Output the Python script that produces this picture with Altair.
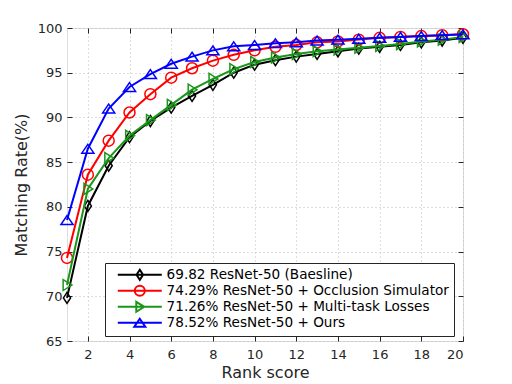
import altair as alt
import pandas as pd

ranks = list(range(1, 21))
series = [
    "69.82 ResNet-50 (Baesline)",
    "74.29% ResNet-50 + Occlusion Simulator",
    "71.26% ResNet-50 + Multi-task Losses",
    "78.52% ResNet-50 + Ours",
]
colors = ["#000000", "#ff0000", "#1a961a", "#0000ff"]

baseline = [69.82, 80.1, 84.6, 87.8, 89.6, 91.1, 92.4, 93.65, 95.0, 95.9,
            96.4, 96.8, 97.1, 97.4, 97.7, 97.9, 98.1, 98.4, 98.6, 98.9]
occlusion = [74.29, 83.6, 87.4, 90.55, 92.6, 94.45, 95.5, 96.35, 97.0, 97.5,
             97.9, 98.1, 98.4, 98.5, 98.7, 98.9, 99.0, 99.1, 99.2, 99.3]
multitask = [71.26, 82.0, 85.45, 87.95, 89.7, 91.4, 93.1, 94.3, 95.4, 96.2,
             96.7, 97.1, 97.4, 97.6, 97.8, 98.0, 98.2, 98.5, 98.7, 99.0]
ours = [78.52, 86.5, 91.0, 93.4, 94.85, 96.0, 96.8, 97.5, 97.95, 98.1,
        98.3, 98.4, 98.6, 98.7, 98.8, 98.9, 99.0, 99.1, 99.2, 99.3]

x_ticks = list(range(2, 21, 2))
y_ticks = list(range(65, 101, 5))

marker_paths = [
    "M0,-1L0.65,0L0,1L-0.65,0Z",
    "M1,0A1,1,0,1,1,-1,0A1,1,0,1,1,1,0Z",
    "M-0.7,-1L0.9,0L-0.7,1Z",
    "M0,-0.8L1.1,0.8L-1.1,0.8Z",
]
legend_paths = ["M-4.4,0H4.4" + p for p in marker_paths]

rows = []
for name, vals in zip(series, [baseline, occlusion, multitask, ours]):
    for r, v in zip(ranks, vals):
        rows.append({"rank": r, "value": v, "series": name})
df = pd.DataFrame(rows)

FONT = "DejaVu Sans"
TXT = "#262626"

xscale = alt.Scale(domain=[1, 20], nice=False)
yscale = alt.Scale(domain=[65, 100], nice=False)
cscale = alt.Scale(domain=series, range=colors)
sscale = alt.Scale(domain=series, range=legend_paths)

legend = alt.Legend(
    title=None, orient="none", legendX=38, legendY=235, padding=5,
    strokeColor=TXT, fillColor="white", symbolSize=100, symbolStrokeWidth=2,
    symbolOffset=23, labelOffset=20, labelFontSize=13.6, labelFont=FONT,
    labelColor="#000000", rowPadding=-6, cornerRadius=0, labelLimit=500,
    symbolFillColor="transparent", symbolOpacity=1,
)

x_main = alt.Axis(orient="bottom", values=x_ticks, grid=True, gridDash=[1, 3],
                  gridColor="#bdbdbd", domain=False, ticks=False, labelPadding=7,
                  labelFontSize=13, labelColor=TXT, labelFont=FONT,
                  title="Rank score", titleFontSize=16, titleFontWeight="normal",
                  titleColor=TXT, titleFont=FONT, titlePadding=3)
y_main = alt.Axis(orient="left", values=y_ticks, grid=True, gridDash=[1, 3],
                  gridColor="#bdbdbd", domain=False, ticks=False, labelPadding=5,
                  labelFontSize=13, labelColor=TXT, labelFont=FONT,
                  title="Matching Rate(%)", titleFontSize=16, titleFontWeight="normal",
                  titleColor=TXT, titleFont=FONT, titlePadding=8)


def tick_axis(orient, vals):
    return alt.Axis(orient=orient, values=vals, grid=False, domain=False, ticks=True,
                    tickSize=5, tickColor=TXT, labels=False, title=None, offset=-5)


# legend-only layer (no rows drawn), also carries the top/right inner ticks
ghost = alt.Chart(df).transform_filter("datum.rank > 100").mark_point(
    filled=False, strokeWidth=2, opacity=1
).encode(
    x=alt.X("rank:Q", scale=xscale, axis=tick_axis("top", x_ticks)),
    y=alt.Y("value:Q", scale=yscale, axis=tick_axis("right", y_ticks)),
    color=alt.Color("series:N", scale=cscale, legend=legend),
    shape=alt.Shape("series:N", scale=sscale, legend=legend),
)

layers = [ghost]
for i, (s, mp) in enumerate(zip(series, marker_paths)):
    if i == 0:
        xa, ya = x_main, y_main
    elif i == 1:
        xa, ya = tick_axis("bottom", x_ticks), tick_axis("left", y_ticks)
    else:
        xa, ya = None, None
    base = alt.Chart(df).transform_filter(alt.datum.series == s)
    line = base.mark_line(strokeWidth=2).encode(
        x=alt.X("rank:Q", scale=xscale, axis=xa),
        y=alt.Y("value:Q", scale=yscale, axis=ya),
        color=alt.Color("series:N", scale=cscale, legend=None),
    )
    pts = base.mark_point(filled=False, size=121, strokeWidth=1.5, shape=mp,
                          opacity=1).encode(
        x=alt.X("rank:Q", scale=xscale, axis=None),
        y=alt.Y("value:Q", scale=yscale, axis=None),
        color=alt.Color("series:N", scale=cscale, legend=None),
    )
    layers += [line, pts]

chart = alt.layer(*layers).resolve_axis(
    x="independent", y="independent"
).properties(
    width=396, height=313,
    autosize=alt.AutoSizeParams(type="none"),
    padding={"left": 59, "top": 20, "right": 30, "bottom": 41},
).configure_view(stroke=TXT, strokeWidth=1).configure(font=FONT)

chart.save("out.html", embed_options={"renderer": "svg", "actions": False})
